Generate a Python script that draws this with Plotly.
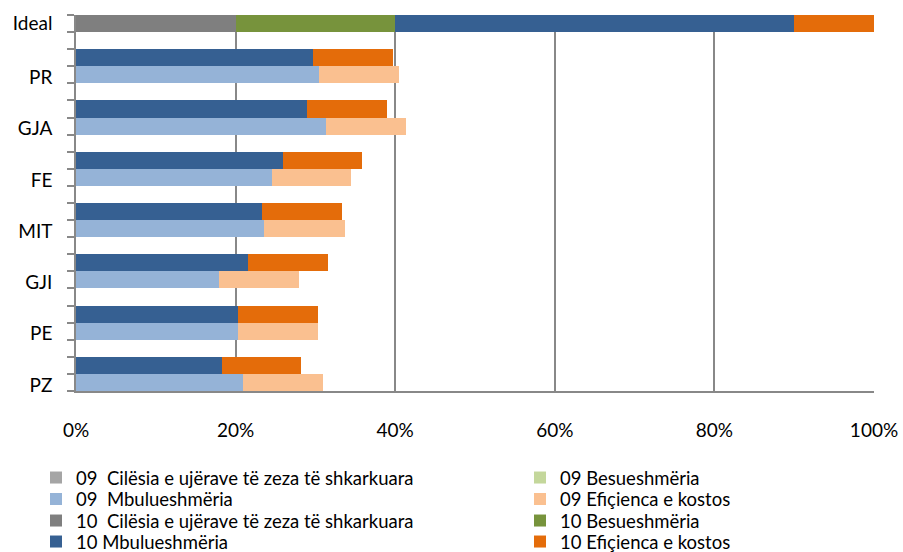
import plotly.graph_objects as go

# ---- data (percent) ----
categories = ["PR", "GJA", "FE", "MIT", "GJI", "PE", "PZ"]
ideal_label = "Ideal"

# 2009 series (per category)
cil_09 = [0, 0, 0, 0, 0, 0, 0]
bes_09 = [0, 0, 0, 0, 0, 0, 0]
mbu_09 = [30.5, 31.3, 24.6, 23.6, 17.9, 20.3, 20.9]
efi_09 = [10.0, 10.1, 9.9, 10.1, 10.0, 10.0, 10.0]

# 2010 series (Ideal first, then categories)
cil_10 = [20, 0, 0, 0, 0, 0, 0, 0]
bes_10 = [20, 0, 0, 0, 0, 0, 0, 0]
mbu_10 = [50, 29.7, 29.0, 26.0, 23.3, 21.6, 20.3, 18.3]
efi_10 = [10, 10.0, 10.0, 9.8, 10.0, 10.0, 10.0, 9.9]

x_ticks = [0, 20, 40, 60, 80, 100]
x_tick_text = ["0%", "20%", "40%", "60%", "80%", "100%"]

# ---- layout of rows: Ideal, then (gap, 2010, 2009) per category ----
n = len(categories)
row_10 = [0] + [2 + 3 * i for i in range(n)]
row_09 = [3 + 3 * i for i in range(n)]
last_row = row_09[-1]

FONT = "Lato, 'Open Sans', sans-serif"
NB = "\u00a0"

# name, values, rows, colour, legend column, legend row
series = [
    ("09" + NB + NB + "Cilësia e ujërave të zeza të shkarkuara", cil_09, row_09, "#A5A5A5", 0, 0),
    ("09 Besueshmëria", bes_09, row_09, "#C4D79B", 1, 0),
    ("09" + NB + NB + "Mbulueshmëria", mbu_09, row_09, "#95B3D7", 0, 1),
    ("09 Efiçienca e kostos", efi_09, row_09, "#FAC090", 1, 1),
    ("10" + NB + NB + "Cilësia e ujërave të zeza të shkarkuara", cil_10, row_10, "#7F7F7F", 0, 2),
    ("10 Besueshmëria", bes_10, row_10, "#77933C", 1, 2),
    ("10 Mbulueshmëria", mbu_10, row_10, "#366092", 0, 3),
    ("10 Efiçienca e kostos", efi_10, row_10, "#E46C0A", 1, 3),
]

# plot area geometry (pixels) used to place legend rows
W, H = 903, 552
ML, MR, MT, MB = 76, 29, 15, 161
plot_w = W - ML - MR
plot_h = H - MT - MB
legend_col_px = [36, 520]
legend_row_px = [478, 499.5, 521, 542]

fig = go.Figure()
legend_layouts = {}
for k, (name, vals, rows, color, col, row) in enumerate(series):
    lid = "legend" if k == 0 else f"legend{k + 1}"
    fig.add_trace(go.Bar(
        x=vals, y=rows, orientation="h", name=name, width=1,
        marker=dict(color=color, line=dict(width=0)),
        hoverinfo="skip", legend=lid,
    ))
    legend_layouts[lid] = dict(
        x=(legend_col_px[col] - ML) / plot_w, xanchor="left",
        y=(H - MB - legend_row_px[row]) / plot_h, yanchor="middle",
        bgcolor="rgba(0,0,0,0)",
        font=dict(family=FONT, size=18.5, color="#000000"),
        itemclick=False, itemdoubleclick=False,
    )

label_vals = [row_10[0]] + [r + 0.15 for r in row_09]
label_text = [ideal_label] + categories
boundaries = [r - 0.5 for r in range(last_row + 2)]

fig.update_layout(
    barmode="stack",
    width=W, height=H,
    margin=dict(l=ML, r=MR, t=MT, b=MB, autoexpand=False),
    plot_bgcolor="white", paper_bgcolor="white",
    font=dict(family=FONT, color="#000000", size=19),
    showlegend=True,
    bargap=0,
    **legend_layouts,
)

fig.update_xaxes(
    range=[0, 100],
    tickvals=x_ticks, ticktext=x_tick_text,
    showgrid=True, gridcolor="#888888", gridwidth=1.5,
    showline=True, linecolor="#888888", linewidth=1.5,
    ticks="", zeroline=False,
    ticklabelstandoff=21,
    tickfont=dict(family=FONT, size=19, color="#000000"),
)

fig.update_yaxes(
    range=[last_row + 0.5, -0.5],
    tickmode="array", tickvals=label_vals, ticktext=label_text,
    ticks="", showgrid=False, zeroline=False,
    showline=True, linecolor="#888888", linewidth=1.5,
    ticklabelstandoff=18,
    tickfont=dict(family=FONT, size=19, color="#000000"),
    minor=dict(tickmode="array", tickvals=boundaries, ticks="outside",
               ticklen=7, tickcolor="#888888", tickwidth=1.5, showgrid=False),
)

fig.write_html(
    "out.html",
    config={"displayModeBar": False},
    post_script="document.body.style.margin='0px';",
)
